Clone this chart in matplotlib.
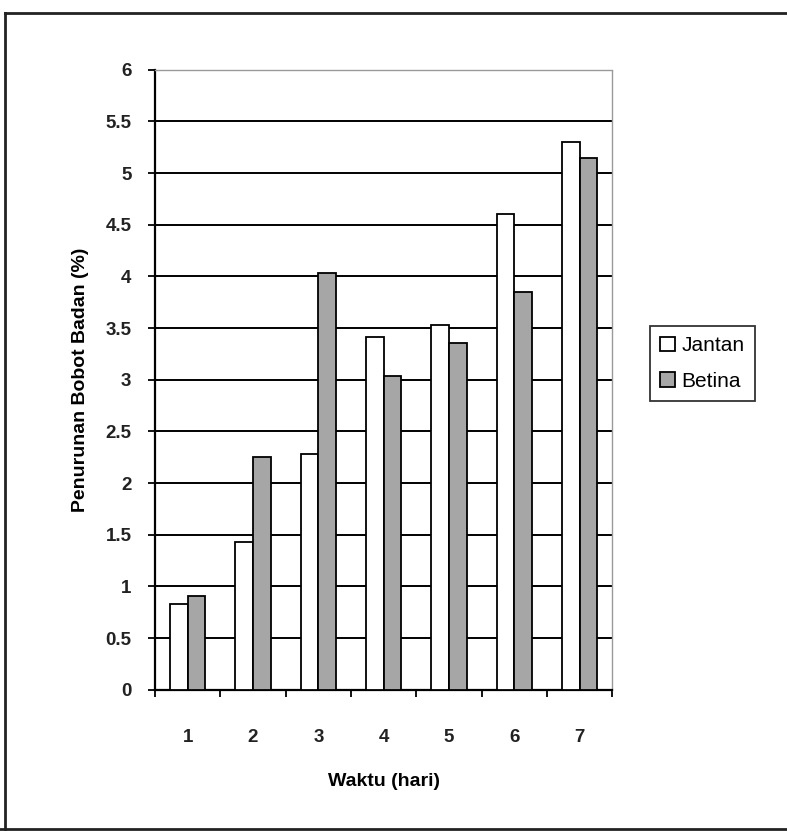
import matplotlib
matplotlib.use("Agg")
import matplotlib.pyplot as plt
from matplotlib.lines import Line2D
import numpy as np

plt.rcParams['font.family'] = ['Liberation Sans', 'DejaVu Sans']

categories = ['1', '2', '3', '4', '5', '6', '7']
jantan = [0.83, 1.43, 2.28, 3.41, 3.53, 4.60, 5.30]
betina = [0.91, 2.25, 4.03, 3.04, 3.36, 3.85, 5.15]
yticks = [0, 0.5, 1, 1.5, 2, 2.5, 3, 3.5, 4, 4.5, 5, 5.5, 6]
ytick_labels = ['0', '0.5', '1', '1.5', '2', '2.5', '3', '3.5', '4', '4.5', '5', '5.5', '6']

fig = plt.figure(figsize=(7.87, 8.31), dpi=100)
ax = fig.add_axes([0.197, 0.170, 0.581, 0.746])

x = np.arange(len(categories))
w = 0.27
ax.set_axisbelow(True)
ax.yaxis.grid(True, color='black', linewidth=1.4)
ax.bar(x - w/2, jantan, width=w, color='white', edgecolor='black', linewidth=1.3, label='Jantan', zorder=3)
ax.bar(x + w/2, betina, width=w, color='#a6a6a6', edgecolor='black', linewidth=1.3, label='Betina', zorder=3)

ax.set_xlim(-0.5, len(categories) - 0.5)
ax.set_ylim(0, 6)
ax.set_yticks(yticks)
ax.set_yticklabels(ytick_labels, fontsize=13.5, fontweight='bold', color='#222222')
ax.set_xticks(x)
ax.set_xticklabels(categories, fontsize=13.5, fontweight='bold', color='#222222')
ax.set_xticks(np.arange(-0.5, len(categories)), minor=True)
ax.tick_params(axis='x', which='major', length=0, pad=28)
ax.tick_params(axis='x', which='minor', length=5, width=1.3, direction='out')
ax.tick_params(axis='y', length=5, width=1.3, direction='out', pad=12)

for s in ['left', 'bottom']:
    ax.spines[s].set_linewidth(1.6)
    ax.spines[s].set_color('black')
for s in ['top', 'right']:
    ax.spines[s].set_linewidth(1.0)
    ax.spines[s].set_color('#9a9a9a')
    ax.spines[s].set_linestyle((0, (2, 1)))
ax.yaxis.get_gridlines()[-1].set_visible(False)

ax.set_xlabel('Waktu (hari)', fontsize=14, fontweight='bold', labelpad=20)
ax.set_ylabel('Penurunan Bobot Badan (%)', fontsize=14, fontweight='bold', labelpad=12)

leg = fig.legend(loc='upper left', bbox_to_anchor=(0.826, 0.608), frameon=True,
                 fancybox=False, edgecolor='black', fontsize=15,
                 handlelength=0.7, handleheight=0.7, handletextpad=0.3,
                 borderpad=0.5, labelspacing=0.8, borderaxespad=0)
leg.get_frame().set_linewidth(1.3)

# outer frame
fig.add_artist(Line2D([0.006, 1.0], [0.984, 0.984], transform=fig.transFigure, color='#222222', linewidth=2))
fig.add_artist(Line2D([0.006, 0.006], [0.984, 0.003], transform=fig.transFigure, color='#222222', linewidth=2))
fig.add_artist(Line2D([0.0, 1.0], [0.003, 0.003], transform=fig.transFigure, color='#222222', linewidth=2))

fig.savefig('out.png', dpi=100)
